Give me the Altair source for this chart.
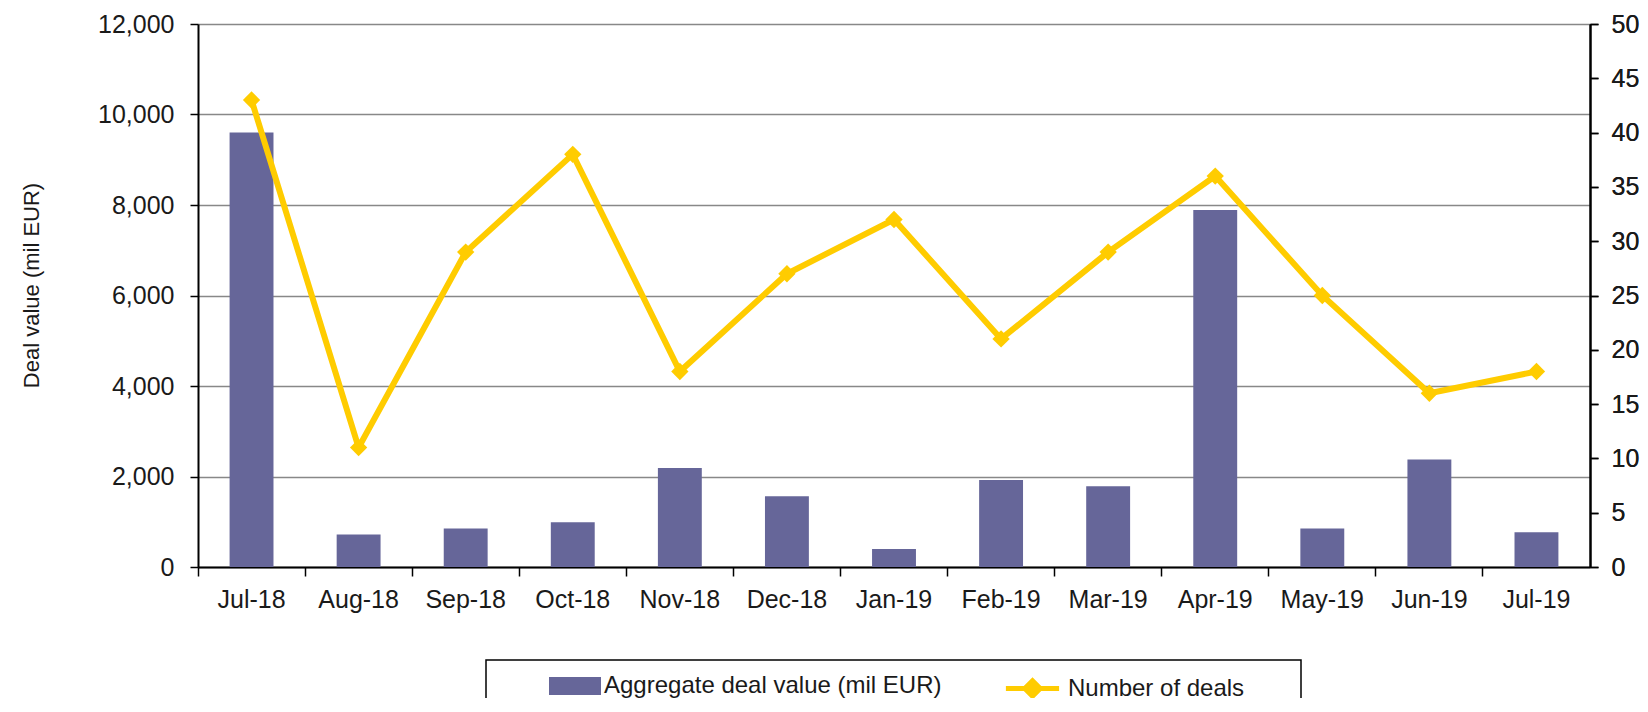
import altair as alt
import pandas as pd

months = ["Jul-18", "Aug-18", "Sep-18", "Oct-18", "Nov-18", "Dec-18", "Jan-19",
          "Feb-19", "Mar-19", "Apr-19", "May-19", "Jun-19", "Jul-19"]
deal_value = [9600, 720, 850, 990, 2190, 1565, 400, 1920, 1785, 7890, 850, 2375, 770]
num_deals = [43, 11, 29, 38, 18, 27, 32, 21, 29, 36, 25, 16, 18]

bar_name = "Aggregate deal value (mil EUR)"
line_name = "Number of deals"

df = pd.DataFrame({
    "month": months,
    "value": deal_value,
    "deals": num_deals,
    "bar_series": [bar_name] * len(months),
    "line_series": [line_name] * len(months),
})

FONT = "Liberation Sans"
TXT = "#1a1a1a"
BAR_C = "#666699"
LINE_C = "#FFCC00"
W, H = 1392, 543

x_enc = alt.X(
    "month:N", sort=months, title=None,
    scale=alt.Scale(paddingInner=0, paddingOuter=0),
    axis=alt.Axis(bandPosition=0, labelAngle=0,
                  tickSize=9, tickColor="black", tickWidth=1.5,
                  domainColor="black", domainWidth=2,
                  labelFont=FONT, labelFontSize=25, labelColor=TXT,
                  labelPadding=11, grid=False),
)

bars = alt.Chart(df).mark_bar(width={"band": 0.41}, opacity=1).encode(
    x=x_enc,
    y=alt.Y("value:Q", scale=alt.Scale(domain=[0, 12000], nice=False),
            axis=alt.Axis(values=list(range(0, 12001, 2000)), format=",.0f",
                          grid=True, gridColor="#888888", gridWidth=1.5,
                          domainColor="black", domainWidth=2,
                          tickColor="black", tickSize=8, tickWidth=1.5,
                          labelFont=FONT, labelFontSize=25, labelColor=TXT,
                          labelPadding=16,
                          title="Deal value (mil EUR)", titleFont=FONT,
                          titleFontSize=22, titleFontWeight="normal",
                          titleColor=TXT, titleX=-167, titleY=261,
                          titleAlign="center", titleBaseline="middle",
                          titleAngle=270)),
    color=alt.Color("bar_series:N",
                    scale=alt.Scale(domain=[bar_name], range=[BAR_C]),
                    legend=alt.Legend(orient="none", legendX=363, legendY=648,
                                      title=None, padding=0,
                                      symbolType="M-1.857,-0.643H1.857V0.643H-1.857Z",
                                      symbolSize=784, symbolStrokeWidth=0,
                                      symbolOpacity=1,
                                      labelFont=FONT, labelFontSize=24,
                                      labelColor=TXT, labelOffset=15,
                                      labelLimit=600)),
)

right_axis = alt.Axis(orient="right", values=list(range(0, 51, 5)), grid=False,
                      domainColor="black", domainWidth=2,
                      tickColor="black", tickSize=8, tickWidth=1.5,
                      labelFont=FONT, labelFontSize=25, labelColor=TXT,
                      labelPadding=13, title=None)

line = alt.Chart(df).mark_line(strokeWidth=6, strokeJoin="miter").encode(
    x=x_enc,
    y=alt.Y("deals:Q", scale=alt.Scale(domain=[0, 50], nice=False), axis=right_axis),
    stroke=alt.Stroke("line_series:N",
                      scale=alt.Scale(domain=[line_name], range=[LINE_C]),
                      legend=alt.Legend(orient="none", legendX=818, legendY=648,
                                        title=None, padding=0,
                                        symbolType="M-1.9,0H1.9M0,-0.55L0.55,0L0,0.55L-0.55,0Z",
                                        symbolSize=784, symbolStrokeWidth=5,
                                        symbolFillColor=LINE_C,
                                        labelFont=FONT, labelFontSize=24,
                                        labelColor=TXT, labelOffset=19,
                                        labelLimit=600)),
)

points = alt.Chart(df).mark_point(shape="diamond", filled=True, size=300,
                                  color=LINE_C, opacity=1).encode(
    x=x_enc,
    y=alt.Y("deals:Q", scale=alt.Scale(domain=[0, 50], nice=False), axis=right_axis),
)

box_df = pd.DataFrame({"k": [0]})
legend_box = alt.Chart(box_df).mark_rect(filled=False, stroke="black",
                                         strokeWidth=1.5).encode(
    x=alt.value(288), x2=alt.value(1103),
    y=alt.value(636), y2=alt.value(720),
)

chart = alt.layer(bars, legend_box, line, points).resolve_scale(
    y="independent"
).properties(
    width=W, height=H,
    autosize=alt.AutoSizeParams(type="none"),
    padding={"left": 190, "top": 16, "right": 50, "bottom": 131},
).configure_view(strokeWidth=0).configure(background="white")

chart.save("out.html", embed_options={"renderer": "svg", "actions": False})
